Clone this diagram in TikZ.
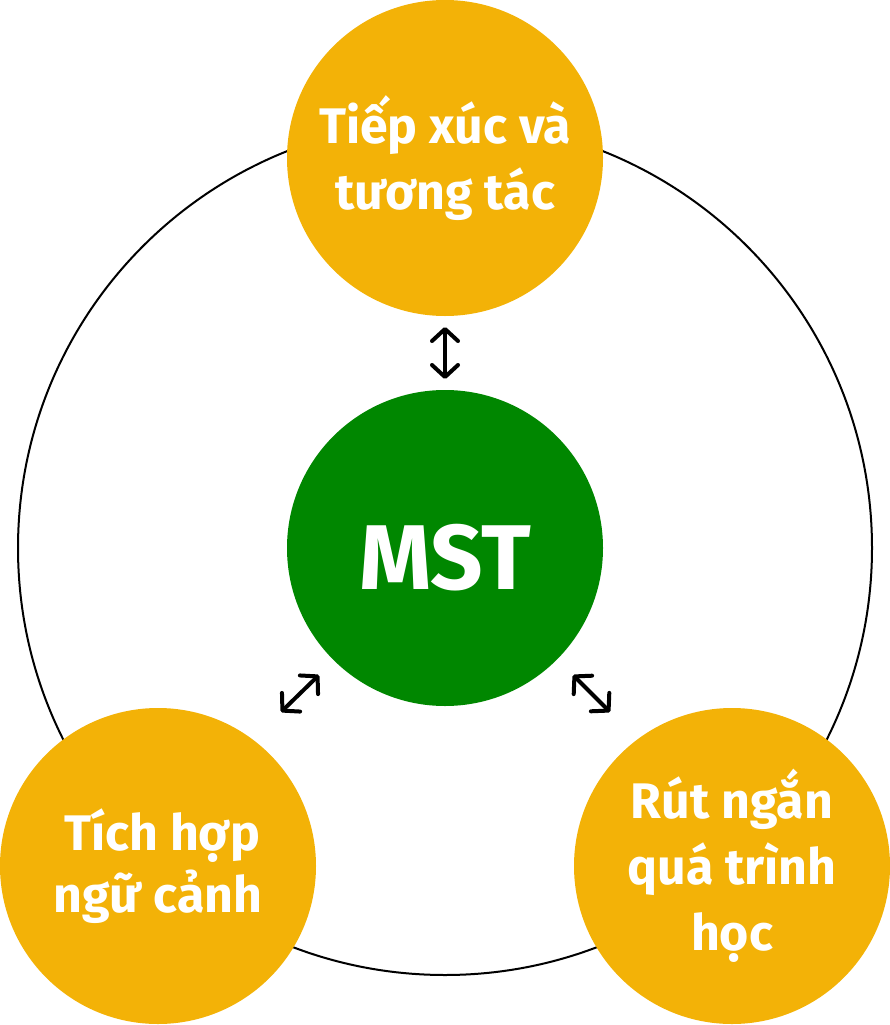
\documentclass[tikz,border=0pt]{standalone}
\usepackage{fontspec}
\setmainfont{Fira Sans}
\usetikzlibrary{arrows.meta}
\definecolor{ambr}{RGB}{243,178,7}
\definecolor{grn}{RGB}{0,135,0}
\begin{document}
\begin{tikzpicture}[x=1pt,y=-1pt,
  bubble/.style={circle,fill=ambr,minimum size=316pt,inner sep=0pt,text=white,
     font=\bfseries\fontsize{50}{66}\selectfont,align=center},
  core/.style={circle,fill=grn,minimum size=316pt,inner sep=0pt,text=white,
     font=\bfseries\fontsize{92}{100}\selectfont,text height=83pt,text depth=0pt},
  link/.style={line width=4pt,line cap=round,line join=round,
     {Straight Barb[length=12pt,width=26pt,line cap=round,line join=round]}-{Straight Barb[length=12pt,width=26pt,line cap=round,line join=round]}}]
\useasboundingbox (0,0) rectangle (890,1025);
\node[circle,draw=black,line width=2pt,minimum size=854pt,inner sep=0pt] (ring) at (445,548) {};
\node[bubble] (top) at (445,158) {Tiếp xúc và\\tương tác};
\node[bubble] (left) at (158,866) {\,Tích hợp\\[-4pt]ngữ cảnh};
\node[bubble] (right) at (732,866) {Rút ngắn\\quá trình\\học};
\node[core] (mst) at (445,548) {MST};
\coordinate (a1) at (445,327);
\coordinate (a2) at (445,379);
\coordinate (b1) at (281,712);
\coordinate (b2) at (319,675);
\coordinate (c1) at (573,675);
\coordinate (c2) at (610,712);
\draw[link] (a1) -- (a2);
\draw[link] (b1) -- (b2);
\draw[link] (c1) -- (c2);
\end{tikzpicture}
\end{document}
